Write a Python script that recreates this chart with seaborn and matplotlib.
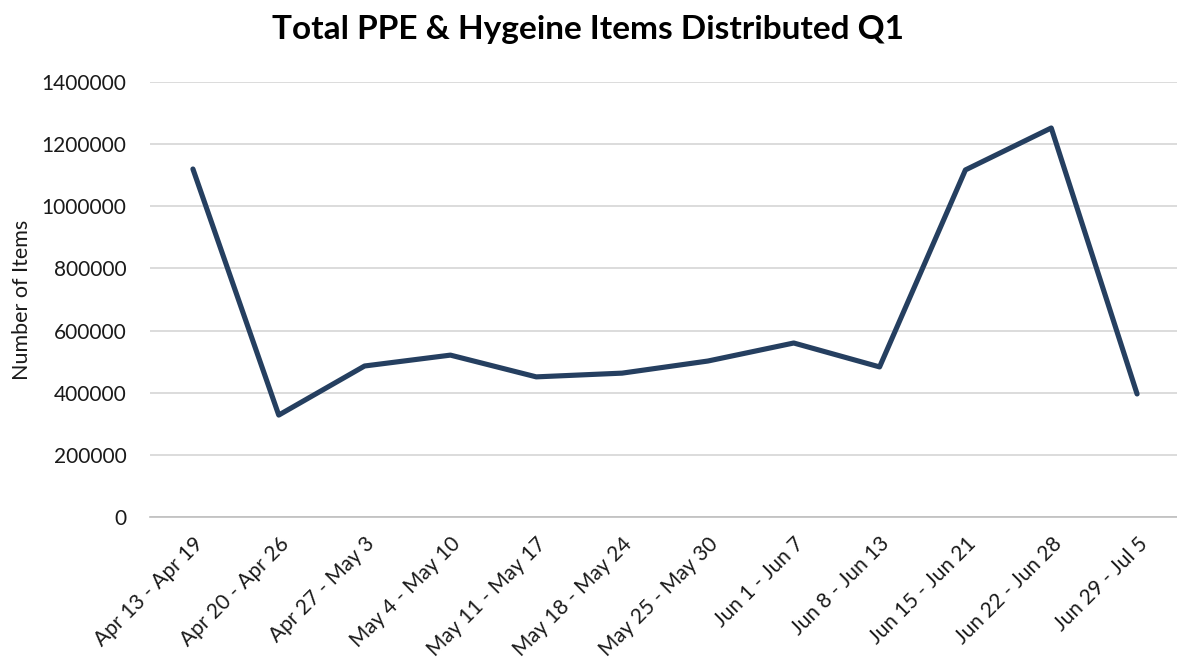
import matplotlib
matplotlib.use("Agg")
import matplotlib.pyplot as plt
import seaborn as sns
import pandas as pd
import numpy as np

weeks = ['Apr 13 - Apr 19', 'Apr 20 - Apr 26', 'Apr 27 - May 3', 'May 4 - May 10',
         'May 11 - May 17', 'May 18 - May 24', 'May 25 - May 30', 'Jun 1 - Jun 7',
         'Jun 8 - Jun 13', 'Jun 15 - Jun 21', 'Jun 22 - Jun 28', 'Jun 29 - Jul 5']
items = [1120000, 328000, 486000, 521000, 451000, 463000, 502000, 560000,
         483000, 1117000, 1252000, 396000]
y_ticks = [0, 200000, 400000, 600000, 800000, 1000000, 1200000, 1400000]

sns.set_style("white")
plt.rcParams['font.family'] = ['Lato', 'DejaVu Sans']

df = pd.DataFrame({'week': weeks, 'items': items})

fig = plt.figure(figsize=(11.77, 6.62), dpi=100)
ax = fig.add_axes([150 / 1177, 145 / 662, 1030 / 1177, 435 / 662])

sns.lineplot(data=df, x='week', y='items', sort=False, color='#253f60',
             linewidth=3.7, ax=ax, zorder=3)

ax.set_xlim(-0.5, len(weeks) - 0.5)
ax.set_ylim(0, 1400000)
ax.set_yticks(y_ticks)
ax.set_yticklabels([str(v) for v in y_ticks], fontsize=15, color='#1a1a1a')
ax.yaxis.grid(True, color='#d9d9d9', linewidth=1.3)
ax.set_axisbelow(True)

ax.set_xticks(range(len(weeks)))
ax.set_xticklabels(weeks, rotation=45, ha='right', rotation_mode='anchor',
                   fontsize=15, color='#1a1a1a')
ax.set_xticks(np.arange(-0.5, len(weeks), 1), minor=True)
ax.tick_params(axis='x', which='major', length=0, pad=12)
ax.tick_params(axis='x', which='minor', length=7, color='#bfbfbf', width=1.2)
ax.tick_params(axis='y', length=0, pad=17)

for side in ['top', 'right', 'left']:
    ax.spines[side].set_visible(False)
ax.spines['bottom'].set_color('#bfbfbf')
ax.spines['bottom'].set_linewidth(1.2)

ax.set_xlabel('')
ax.set_ylabel('Number of Items', fontsize=15.5, color='#1a1a1a', labelpad=7)
fig.text(0.5, 0.955, 'Total PPE & Hygeine Items Distributed Q1', ha='center',
         va='center', fontsize=24, fontweight='bold', color='#000000')

fig.savefig('out.png', dpi=100)
